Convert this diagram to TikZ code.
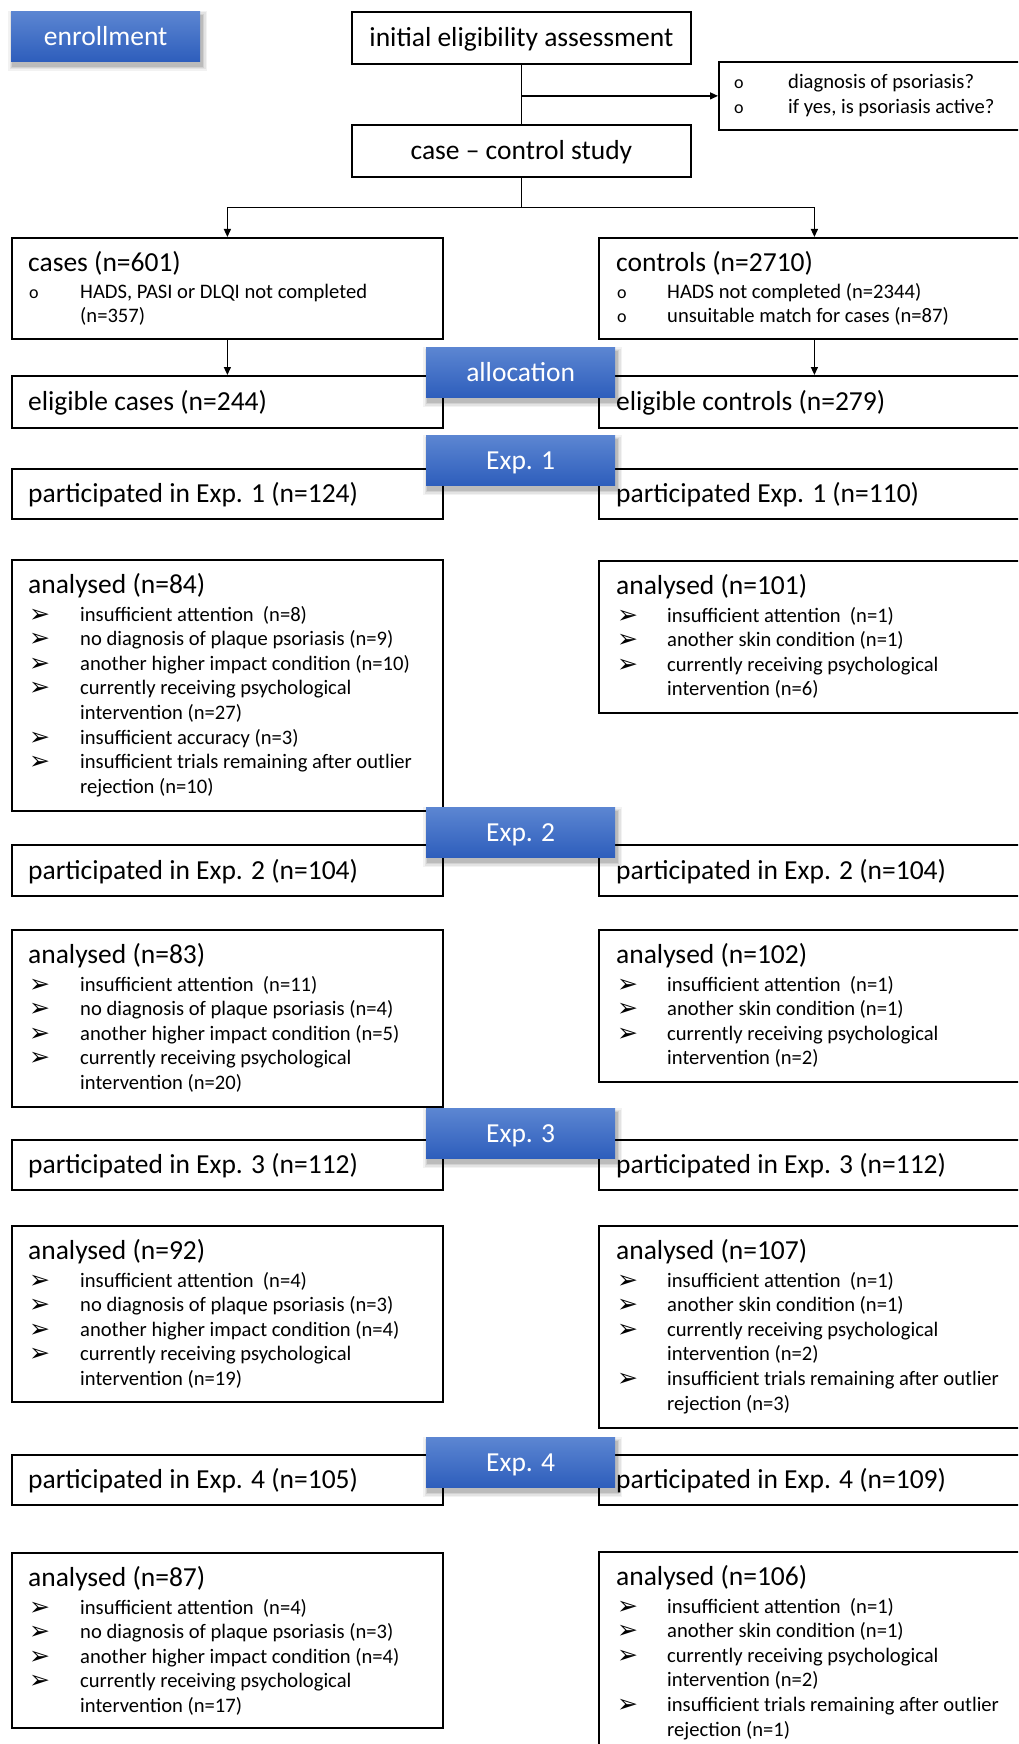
\documentclass[tikz,border=0pt]{standalone}
\usepackage{fontspec}
\setmainfont{Carlito}
\newfontfamily\djv{DejaVu Sans}
\newfontfamily\lmono{Liberation Mono}
\usepackage{array}
\usetikzlibrary{arrows.meta,calc}
\definecolor{btop}{RGB}{92,134,210}
\definecolor{bbot}{RGB}{46,94,188}
\newcommand\hdf{\fontsize{27.5}{33}\selectfont}
\newcommand\blf{\fontsize{20.6}{24.6}\selectfont}
\newcommand\arrb{\raisebox{-1pt}{\djv\fontsize{25}{25}\selectfont ➢}}
\newcommand\cib{{\fontsize{18}{18}\selectfont o}}
\newcommand\ia{\arrb &}
\newcommand\ic{\cib &}
\newcommand\lista[2]{\begin{tabular}[t]{@{}p{#1pt}@{}l@{}}#2\end{tabular}}
\tikzset{
  wbox/.style={draw=black, line width=1.8pt, fill=white, inner sep=0pt, anchor=north west},
  ctext/.style={font=\hdf, text height=21pt, text depth=3pt},
  bbox/.style={anchor=north west, minimum width=189pt, minimum height=50pt, inner sep=0pt,
     top color=btop, bottom color=bbot, draw=none, text=white, font=\hdf, text height=21pt, text depth=3pt},
  hd/.style={anchor=base west, inner sep=0pt, font=\hdf},
  lst/.style={anchor=base west, inner sep=0pt, font=\blf},
  ln/.style={line width=1.3pt},
  arr/.style={line width=1.3pt, -{Triangle[length=8pt,width=7pt]}},
}
\newcommand\mybox[5]{\node[wbox, minimum width={#4-#2}, minimum height={#5-#3}] (#1) at (#2,#3) {};}
\newcommand\bluebox[4]{%
  \foreach \s/\o in {5/0.05,3.5/0.06,2/0.08,0.8/0.10}{%
    \fill[black, opacity=\o] (#2+2-\s,#3+5-\s) rectangle (#2+191+\s,#3+55+\s);}
  \node[bbox] (#1) at (#2,#3) {#4};}
\begin{document}
\begin{tikzpicture}[x=1pt,y=-1pt]
\useasboundingbox (0,0) rectangle (1018,1744);
\clip (0,0) rectangle (1018,1744);
\fill[white] (0,0) rectangle (1018,1744);

% top
\node[wbox, ctext, minimum width=339pt, minimum height=52pt] (init) at (351,11) {initial eligibility assessment};
\node[wbox, ctext, minimum width=339pt, minimum height=52pt] (cc) at (351,124) {case – control study};
\mybox{pso}{718}{61}{1040}{129}
\node[lst] (psot) at (734,89) {\lista{54}{\ic diagnosis of psoriasis?\\ \ic if yes, is psoriasis active?}};

% cases / controls
\mybox{cases}{11}{237}{442}{338}
\node[hd] (casesh) at (28,272) {cases (n=601)};
\node[lst] (casesl) at (29,298) {\lista{51}{\ic HADS, PASI or DLQI not completed\\ & (n=357)}};
\mybox{controls}{598}{237}{1029}{338}
\node[hd] (controlsh) at (616,272) {controls (n=2710)};
\node[lst] (controlsl) at (617,298) {\lista{50}{\ic HADS not completed (n=2344)\\ \ic unsuitable match for cases (n=87)}};

% eligible
\mybox{elc}{11}{375}{442}{427}
\node[hd] (elct) at (28,410) {eligible cases (n=244)};
\mybox{elr}{598}{375}{1029}{427}
\node[hd] (elrt) at (616,410) {eligible controls (n=279)};

% Exp 1
\mybox{p1l}{11}{468}{442}{518}
\node[hd] (p1lt) at (28,502) {participated in Exp. 1 (n=124)};
\mybox{p1r}{598}{468}{1029}{518}
\node[hd] (p1rt) at (616,502) {participated Exp. 1 (n=110)};
\mybox{a1l}{11}{559}{442}{810}
\node[hd] (a1lh) at (28,593) {analysed (n=84)};
\node[lst] (a1ll) at (29,621) {\lista{51}{%
 \ia insufficient attention\ \ (n=8)\\
 \ia no diagnosis of plaque psoriasis (n=9)\\
 \ia another higher impact condition (n=10)\\
 \ia currently receiving psychological\\
 & intervention (n=27)\\
 \ia insufficient accuracy (n=3)\\
 \ia insufficient trials remaining after outlier\\
 & rejection (n=10)}};
\mybox{a1r}{598}{560}{1029}{712}
\node[hd] (a1rh) at (616,594) {analysed (n=101)};
\node[lst] (a1rl) at (617,622) {\lista{50}{%
 \ia insufficient attention\ \ (n=1)\\
 \ia another skin condition (n=1)\\
 \ia currently receiving psychological\\
 & intervention (n=6)}};

% Exp 2
\mybox{p2l}{11}{844}{442}{895}
\node[hd] (p2lt) at (28,879) {participated in Exp. 2 (n=104)};
\mybox{p2r}{598}{844}{1029}{895}
\node[hd] (p2rt) at (616,879) {participated in Exp. 2 (n=104)};
\mybox{a2l}{11}{929}{442}{1106}
\node[hd] (a2lh) at (28,963) {analysed (n=83)};
\node[lst] (a2ll) at (29,991) {\lista{51}{%
 \ia insufficient attention\ \ (n=11)\\
 \ia no diagnosis of plaque psoriasis (n=4)\\
 \ia another higher impact condition (n=5)\\
 \ia currently receiving psychological\\
 & intervention (n=20)}};
\mybox{a2r}{598}{929}{1029}{1081}
\node[hd] (a2rh) at (616,963) {analysed (n=102)};
\node[lst] (a2rl) at (617,991) {\lista{50}{%
 \ia insufficient attention\ \ (n=1)\\
 \ia another skin condition (n=1)\\
 \ia currently receiving psychological\\
 & intervention (n=2)}};

% Exp 3
\mybox{p3l}{11}{1139}{442}{1189}
\node[hd] (p3lt) at (28,1173) {participated in Exp. 3 (n=112)};
\mybox{p3r}{598}{1139}{1029}{1189}
\node[hd] (p3rt) at (616,1173) {participated in Exp. 3 (n=112)};
\mybox{a3l}{11}{1225}{442}{1401}
\node[hd] (a3lh) at (28,1259) {analysed (n=92)};
\node[lst] (a3ll) at (29,1287) {\lista{51}{%
 \ia insufficient attention\ \ (n=4)\\
 \ia no diagnosis of plaque psoriasis (n=3)\\
 \ia another higher impact condition (n=4)\\
 \ia currently receiving psychological\\
 & intervention (n=19)}};
\mybox{a3r}{598}{1225}{1029}{1427}
\node[hd] (a3rh) at (616,1259) {analysed (n=107)};
\node[lst] (a3rl) at (617,1287) {\lista{50}{%
 \ia insufficient attention\ \ (n=1)\\
 \ia another skin condition (n=1)\\
 \ia currently receiving psychological\\
 & intervention (n=2)\\
 \ia insufficient trials remaining after outlier\\
 & rejection (n=3)}};

% Exp 4
\mybox{p4l}{11}{1454}{442}{1504}
\node[hd] (p4lt) at (28,1488) {participated in Exp. 4 (n=105)};
\mybox{p4r}{598}{1454}{1029}{1504}
\node[hd] (p4rt) at (616,1488) {participated in Exp. 4 (n=109)};
\mybox{a4l}{11}{1552}{442}{1727}
\node[hd] (a4lh) at (28,1586) {analysed (n=87)};
\node[lst] (a4ll) at (29,1614) {\lista{51}{%
 \ia insufficient attention\ \ (n=4)\\
 \ia no diagnosis of plaque psoriasis (n=3)\\
 \ia another higher impact condition (n=4)\\
 \ia currently receiving psychological\\
 & intervention (n=17)}};
\mybox{a4r}{598}{1551}{1029}{1765}
\node[hd] (a4rh) at (616,1585) {analysed (n=106)};
\node[lst] (a4rl) at (617,1613) {\lista{50}{%
 \ia insufficient attention\ \ (n=1)\\
 \ia another skin condition (n=1)\\
 \ia currently receiving psychological\\
 & intervention (n=2)\\
 \ia insufficient trials remaining after outlier\\
 & rejection (n=1)}};

% connectors
\draw[ln] (init.south) -- (cc.north);
\draw[arr] (init.south |- pso.west) -- (pso.west);
\coordinate (split) at ($(cc.south)+(0,30)$);
\draw[ln] (cc.south) -- (split);
\draw[arr] (split) -| (cases.north);
\draw[arr] (split) -| (controls.north);
\draw[arr] (cases.south) -- (elc.north);
\draw[arr] (controls.south) -- (elr.north);

% blue labels
\bluebox{enr}{11}{11}{enrollment}
\bluebox{alloc}{426}{347}{allocation}
\bluebox{e1}{426}{435}{Exp. 1}
\bluebox{e2}{426}{807}{Exp. 2}
\bluebox{e3}{426}{1108}{Exp. 3}
\bluebox{e4}{426}{1437}{Exp. 4}
\end{tikzpicture}
\end{document}
